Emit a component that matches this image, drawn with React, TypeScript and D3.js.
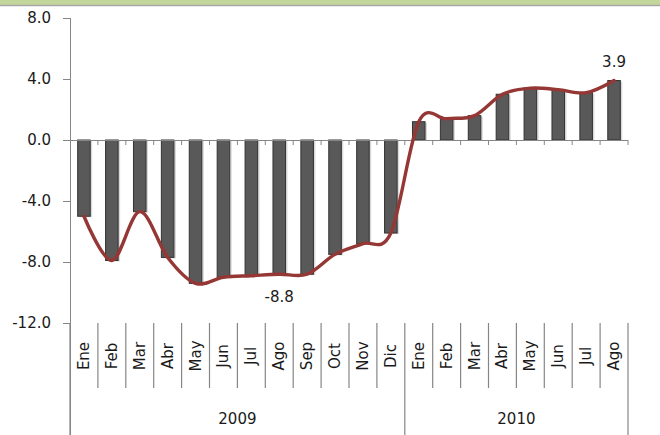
import React from "react";
import * as d3 from "d3";

const months2009 = ["Ene","Feb","Mar","Abr","May","Jun","Jul","Ago","Sep","Oct","Nov","Dic"];
const months2010 = ["Ene","Feb","Mar","Abr","May","Jun","Jul","Ago"];
const values2009 = [-5.0,-7.9,-4.7,-7.7,-9.4,-9.0,-8.9,-8.8,-8.8,-7.5,-6.8,-6.1];
const values2010 = [1.2,1.4,1.6,3.0,3.4,3.3,3.1,3.9];
const years = ["2009","2010"];
const yTicks = [8,4,0,-4,-8,-12];
const labelled = [{ year: "2009", idx: 7, pos: "below" }, { year: "2010", idx: 7, pos: "above" }];

const FONT = "DejaVu Sans";

export default function App() {
  const W = 660, H = 435;
  const left = 70, right = 628, top = 18, bottom = 323;
  const cats = [
    ...months2009.map((m, i) => ({ m, year: years[0], v: values2009[i], key: "a" + i })),
    ...months2010.map((m, i) => ({ m, year: years[1], v: values2010[i], key: "b" + i })),
  ];
  const n = cats.length;
  const x = d3.scaleBand<string>().domain(cats.map(c => c.key)).range([left, right]).paddingInner(0.55).paddingOuter(0.275);
  const step = x.step();
  const y = d3.scaleLinear().domain([-12, 8]).range([bottom, top]);
  const cx = (k: string) => (x(k) as number) + x.bandwidth() / 2;
  const line = d3.line<any>().x(d => cx(d.key)).y(d => y(d.v)).curve(d3.curveCardinal.tension(0));
  const axisColor = "#868686";
  const boundaries = d3.range(n + 1).map(k => left + k * step);
  const yearBreaks = [0, months2009.length, n];
  const yearSpans = [
    { label: years[0], a: 0, b: months2009.length },
    { label: years[1], a: months2009.length, b: n },
  ];

  return (
    <svg width={W} height={H} style={{ position: "absolute", left: 0, top: 0, background: "#fff" }}>
      <rect x={0} y={0} width={W} height={5} fill="#c4d79b" />
      <line x1={0} x2={W} y1={5.5} y2={5.5} stroke="#a6a6a6" strokeWidth={1.5} />
      {/* y axis */}
      <line x1={left + 0.5} x2={left + 0.5} y1={top} y2={H} stroke={axisColor} strokeWidth={1} />
      {yTicks.map(t => (
        <g key={t}>
          <line x1={left - 7} x2={left} y1={Math.round(y(t)) + 0.5} y2={Math.round(y(t)) + 0.5} stroke={axisColor} />
          <text x={51} y={y(t)} dy="0.36em" textAnchor="end" fontFamily={FONT} fontSize={15} fill="#1a1a1a">{t.toFixed(1)}</text>
        </g>
      ))}
      {/* bars */}
      {cats.map(c => {
        const y0 = y(0), y1 = y(c.v);
        return (
          <g key={c.key}>
            <rect x={(x(c.key) as number) + 2} y={Math.min(y0, y1) + 1} width={x.bandwidth()} height={Math.abs(y1 - y0)} fill="#000" opacity={0.15} />
            <rect x={x(c.key)} y={Math.min(y0, y1)} width={x.bandwidth()} height={Math.abs(y1 - y0)} fill="#595959" stroke="#333" strokeWidth={1} />
          </g>
        );
      })}
      {/* zero axis */}
      <line x1={left} x2={right} y1={Math.round(y(0)) + 0.5} y2={Math.round(y(0)) + 0.5} stroke={axisColor} />
      {boundaries.slice(1).map((bx, k) => (
        <line key={"zt" + k} x1={bx} x2={bx} y1={y(0)} y2={y(0) + 5} stroke={axisColor} />
      ))}
      {/* smooth line */}
      <path d={line(cats) as string} fill="none" stroke="#953735" strokeWidth={3.4} strokeLinejoin="round" strokeLinecap="round" />
      {/* data labels */}
      {labelled.map((l, i) => {
        const c = cats.filter(cc => cc.year === l.year)[l.idx];
        const yy = l.pos === "below" ? y(c.v) + 28 : y(c.v) - 14;
        return <text key={i} x={cx(c.key)} y={yy} textAnchor="middle" fontFamily={FONT} fontSize={15} fill="#1a1a1a">{c.v.toFixed(1)}</text>;
      })}
      {/* category separators */}
      {boundaries.map((bx, k) => (
        <line key={"sep" + k} x1={bx} x2={bx} y1={bottom} y2={yearBreaks.includes(k) ? H : 388} stroke={axisColor} strokeWidth={1.2} />
      ))}
      {cats.map(c => (
        <text key={"l" + c.key} transform={`translate(${cx(c.key) + 5},356) rotate(-90)`} textAnchor="middle" fontFamily={FONT} fontSize={15} fill="#1a1a1a">{c.m}</text>
      ))}
      {yearSpans.map(s => (
        <text key={s.label} x={left + ((s.a + s.b) / 2) * step} y={424} textAnchor="middle" fontFamily={FONT} fontSize={15} fill="#1a1a1a">{s.label}</text>
      ))}
    </svg>
  );
}
